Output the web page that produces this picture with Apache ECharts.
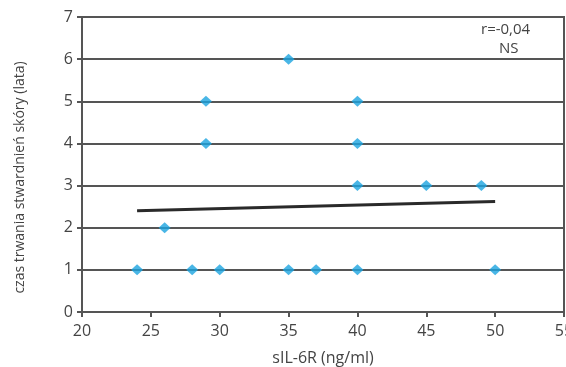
<!DOCTYPE html>
<html>
<head>
<meta charset="utf-8">
<script src="https://cdn.jsdelivr.net/npm/echarts@6/dist/echarts.min.js"></script>
<style>html,body{margin:0;padding:0;background:#fff;}#c{width:566px;height:367px;}</style>
</head>
<body>
<div id="c"></div>
<script>
const pointsX = [24, 28, 30, 35, 37, 40, 50, 26, 40, 45, 49, 29, 40, 29, 40, 35];
const pointsY = [1, 1, 1, 1, 1, 1, 1, 2, 3, 3, 3, 4, 4, 5, 5, 6];
const trendX = [24, 50];
const trendY = [2.40, 2.62];
const xTicks = [20, 25, 30, 35, 40, 45, 50, 55];
const yTicks = [0, 1, 2, 3, 4, 5, 6, 7];
const xName = 'sIL-6R (ng/ml)';
const yName = 'czas trwania stwardnień skóry (lata)';
const noteLines = ['r=-0,04', 'NS'];

const font = 'Open Sans';
const chart = echarts.init(document.getElementById('c'), null, {renderer: 'canvas'});
chart.setOption({
  animation: false,
  backgroundColor: '#fff',
  grid: {left: 82, right: 2, top: 17, bottom: 55, show: true, borderColor: '#555', borderWidth: 2,
         backgroundColor: 'transparent', containLabel: false, outerBoundsMode: 'none'},
  xAxis: {
    type: 'value', min: xTicks[0], max: xTicks[xTicks.length - 1], interval: 5,
    name: xName, nameLocation: 'middle', nameGap: 38,
    nameTextStyle: {fontFamily: font, fontSize: 16, color: '#444'},
    axisLine: {show: true, onZero: false, lineStyle: {color: '#555', width: 2}},
    axisTick: {show: true, inside: false, length: 5, lineStyle: {color: '#555', width: 2}},
    axisLabel: {fontFamily: font, fontSize: 16, color: '#444', margin: 11, hideOverlap: false},
    splitLine: {show: false}
  },
  yAxis: {
    type: 'value', min: yTicks[0], max: yTicks[yTicks.length - 1], interval: 1,
    name: yName, nameLocation: 'middle', nameGap: 55, nameRotate: 90,
    nameTextStyle: {fontFamily: font, fontSize: 14, color: '#444', padding: [0, 26, 0, 0]},
    axisLine: {show: true, lineStyle: {color: '#555', width: 2}},
    axisTick: {show: true, inside: false, length: 5, lineStyle: {color: '#555', width: 2}},
    axisLabel: {fontFamily: font, fontSize: 16, color: '#444', margin: 9},
    splitLine: {show: true, lineStyle: {color: '#555', width: 2}}
  },
  series: [
    {
      type: 'line', data: trendX.map((x, i) => [x, trendY[i]]),
      showSymbol: false, symbol: 'none',
      lineStyle: {color: '#2a2a2a', width: 3}, z: 3
    },
    {
      type: 'scatter', data: pointsX.map((x, i) => [x, pointsY[i]]),
      symbol: 'diamond', symbolSize: [12, 11],
      itemStyle: {color: '#1ba4e0'}, z: 4
    }
  ],
  graphic: [
    {type: 'text', left: 481, top: 22, style: {text: noteLines[0], fontFamily: font, fontSize: 15, fill: '#444'}},
    {type: 'text', left: 499, top: 41, style: {text: noteLines[1], fontFamily: font, fontSize: 15, fill: '#444'}}
  ]
});
</script>
</body>
</html>
